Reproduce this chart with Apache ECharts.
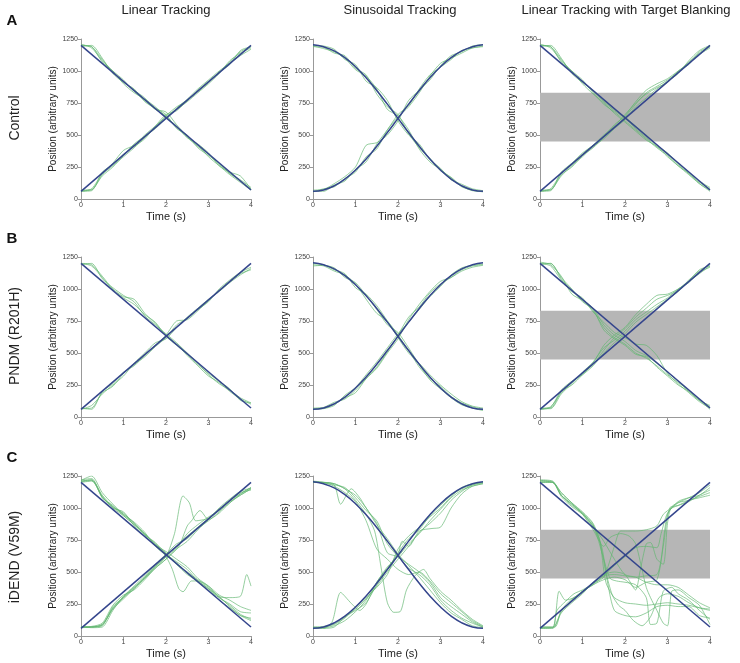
<!DOCTYPE html>
<html><head><meta charset="utf-8">
<script src="https://cdn.jsdelivr.net/npm/echarts@6.0.0/dist/echarts.min.js"></script>
<style>html,body{margin:0;padding:0;background:#fff}#c{width:740px;height:663px}</style>
</head><body><div id="c"></div>
<script>
// ---------- DATA ----------
const T = [0,0.25,0.5,0.75,1,1.25,1.5,1.75,2,2.25,2.5,2.75,3,3.25,3.5,3.75,4];
const linTime = [0,4];
const linUpTarget = [60,1200];
const linDownTarget = [1200,70];
const sinUpTarget = [60,71,103,156,227,313,412,519,630,741,848,947,1033,1104,1157,1189,1205];
const sinDownTarget = [1205,1189,1157,1104,1033,947,848,741,630,519,412,313,227,156,103,71,60];
const blankBand = [450,830];
const colTitles = ['Linear Tracking','Sinusoidal Tracking','Linear Tracking with Target Blanking'];
const rowLetters = ['A','B','C'];
const rowNames = ['Control','PNDM (R201H)','iDEND (V59M)'];

// Control
const ctrlLinUp = [
 [65,70,190,260,330,400,480,560,650,720,770,850,920,990,1070,1150,1190],
 [60,80,200,280,380,420,500,570,640,700,760,830,900,980,1080,1140,1180],
 [70,75,180,250,340,430,490,550,630,710,780,860,930,1000,1060,1120,1170],
 [60,65,210,270,350,410,470,570,660,690,770,840,910,990,1050,1160,1190]];
const ctrlLinDown = [
 [1200,1190,1090,990,920,850,790,700,650,560,480,410,350,270,200,140,80],
 [1210,1180,1080,1000,930,840,770,700,680,580,490,420,330,260,190,130,70],
 [1190,1200,1100,980,910,860,760,710,660,550,500,400,340,280,200,150,90],
 [1200,1190,1070,1000,900,830,780,720,640,570,480,430,360,260,210,180,75]];
const ctrlSinUp = [
 [60,60,110,140,230,290,430,540,660,730,860,970,1030,1090,1160,1180,1195],
 [70,75,120,175,250,420,440,500,610,770,850,930,1040,1120,1150,1195,1205],
 [55,80,95,160,210,330,390,540,640,720,830,960,1060,1100,1140,1180,1190]];
const ctrlSinDown = [
 [1190,1185,1140,1120,1020,970,820,720,660,510,400,320,220,170,100,65,60],
 [1200,1195,1170,1090,1050,920,870,770,610,500,430,310,240,150,115,80,65],
 [1195,1175,1150,1100,1010,960,860,700,650,540,390,290,230,165,95,70,55]];
const ctrlBlankUp = [
 [65,70,190,250,340,400,480,560,640,740,830,880,930,990,1070,1140,1190],
 [60,80,200,270,350,420,490,580,650,760,850,900,940,1000,1060,1130,1180],
 [70,75,180,260,330,410,470,550,620,720,790,860,920,980,1080,1160,1200],
 [60,65,210,280,360,420,500,570,660,750,820,870,910,1000,1050,1150,1190]];
const ctrlBlankDown = [
 [1200,1190,1090,990,920,840,760,690,630,550,480,410,350,270,200,130,80],
 [1210,1180,1080,1000,930,830,740,680,610,540,470,400,340,260,190,120,60],
 [1190,1200,1100,980,910,850,770,700,640,570,500,420,360,280,210,140,90],
 [1200,1190,1070,1000,900,820,750,670,600,530,460,410,330,260,200,120,70]];

// PNDM (R201H)
const pndmLinUp = [
 [70,60,200,260,350,400,480,560,640,750,760,830,910,990,1060,1120,1150],
 [60,90,180,250,320,420,500,580,610,700,780,850,920,980,1050,1110,1160],
 [65,70,190,240,340,410,470,550,620,720,770,840,900,1000,1070,1130,1170]];
const pndmLinDown = [
 [1200,1190,1100,1000,940,920,810,730,640,570,480,400,320,270,200,140,100],
 [1190,1200,1080,1010,950,900,790,720,650,580,500,420,330,260,210,150,110],
 [1200,1180,1090,990,930,880,800,740,630,560,490,410,340,280,220,130,110]];
const pndmSinUp = [
 [70,70,100,150,190,300,390,510,640,780,860,970,1040,1090,1150,1180,1190],
 [60,65,90,170,230,330,430,540,650,740,840,940,1020,1110,1165,1185,1195],
 [65,75,115,140,210,300,380,500,610,760,880,980,1060,1090,1140,1170,1185]];
const pndmSinDown = [
 [1190,1180,1140,1110,1040,920,810,750,640,520,390,300,240,160,110,80,60],
 [1200,1190,1150,1120,1010,960,870,750,620,500,420,330,250,180,120,85,70],
 [1180,1185,1165,1090,1050,950,840,720,660,540,410,290,220,150,95,70,50]];
const pndmBlankUp = [
 [70,70,200,250,330,420,560,640,700,800,880,950,960,1000,1060,1120,1180],
 [60,80,190,270,340,410,520,620,690,780,850,920,950,990,1070,1140,1190],
 [65,65,180,260,350,430,540,600,670,760,820,880,930,1000,1050,1130,1170],
 [60,75,210,280,330,400,500,580,650,740,800,860,920,980,1060,1150,1180]];
const pndmBlankDown = [
 [1200,1200,1080,990,920,850,720,640,590,520,480,420,350,280,200,130,90],
 [1210,1190,1100,960,910,830,700,620,570,500,460,400,330,270,210,140,80],
 [1200,1180,1070,980,930,820,740,660,620,570,560,480,340,260,190,120,70],
 [1190,1200,1090,1000,900,840,680,610,560,490,470,390,320,250,200,130,60]];

// iDEND (V59M)
const idendLinUp = [
 [70,70,80,230,300,380,450,540,630,700,780,850,920,990,1050,1100,1150],
 [65,70,90,210,290,370,460,550,620,690,800,870,930,980,1040,1110,1160],
 [75,65,70,200,310,390,470,560,640,720,760,840,900,970,1060,1120,1140],
 [70,75,100,240,320,360,440,530,600,680,740,830,910,1000,1070,1130,1155],
 [[0,70],[0.25,70],[0.5,90],[0.75,220],[1,310],[1.25,380],[1.5,460],[1.75,540],[2,620],[2.2,800],[2.4,1094],[2.55,1040],[2.7,900],[3,920],[3.25,990],[3.5,1060],[3.75,1110],[4,1160]],
 [[0,70],[0.25,72],[0.5,85],[0.75,215],[1,300],[1.25,370],[1.5,450],[1.75,530],[2,600],[2.3,700],[2.5,860],[2.6,900],[2.8,980],[3,910],[3.25,960],[3.5,1040],[3.75,1100],[4,1150]]];
const idendLinDown = [
 [1210,1220,1100,1010,960,880,800,720,650,560,500,440,380,300,240,170,130],
 [1220,1230,1080,1020,940,870,790,730,640,580,520,430,370,310,230,160,140],
 [1200,1210,1090,1000,970,860,780,710,660,600,540,450,390,300,250,190,180],
 [1215,1250,1120,1030,950,890,810,700,630,570,490,420,360,280,220,160,120],
 [[0,1210],[0.25,1220],[0.5,1080],[0.75,1010],[1,950],[1.25,880],[1.5,790],[1.75,720],[2,620],[2.15,520],[2.3,370],[2.4,346],[2.6,430],[2.75,430],[3,390],[3.25,320],[3.5,280],[3.75,230],[4,200]],
 [[0,1205],[0.25,1215],[0.5,1090],[0.75,1000],[1,940],[1.25,870],[1.5,800],[1.75,710],[2,640],[2.25,560],[2.5,480],[2.75,430],[3,370],[3.2,310],[3.5,300],[3.75,310],[3.9,480],[4,390]]];
const idendSinUp = [
 [65,60,70,150,200,260,400,520,650,760,830,940,1020,1100,1150,1180,1200],
 [70,65,80,120,190,280,420,540,620,720,800,900,990,1080,1140,1170,1190],
 [60,70,90,140,220,300,380,480,680,780,850,930,1000,1090,1160,1190,1195],
 [[0,65],[0.25,60],[0.45,110],[0.65,340],[0.9,255],[1.1,200],[1.25,250],[1.5,420],[1.75,530],[2,640],[2.1,740],[2.25,700],[2.5,820],[2.8,840],[3,850],[3.25,1000],[3.5,1110],[3.75,1170],[4,1190]],
 [70,75,95,150,210,290,390,500,600,700,810,880,960,1060,1130,1180,1200]];
const idendSinDown = [
 [1200,1195,1180,1160,1080,980,900,720,620,530,480,400,280,200,140,100,70],
 [1200,1200,1190,1150,1100,1000,870,760,640,550,460,360,260,180,130,80,65],
 [[0,1200],[0.25,1200],[0.5,1180],[0.65,1030],[0.9,1150],[1.1,1080],[1.25,1000],[1.5,880],[1.75,650],[2,620],[2.25,560],[2.5,500],[2.75,420],[3,300],[3.25,230],[3.5,170],[3.75,110],[4,70]],
 [[0,1205],[0.25,1200],[0.5,1190],[0.75,1150],[1,1060],[1.25,950],[1.45,820],[1.6,540],[1.75,260],[1.9,185],[2.05,190],[2.2,360],[2.4,470],[2.6,520],[2.75,450],[3,350],[3.25,280],[3.5,200],[3.75,130],[4,80]],
 [1210,1200,1170,1120,1050,900,680,600,520,480,500,430,330,260,190,120,75]];
const idendBlankUp = [
 [[0,65],[0.3,65],[0.4,200],[0.6,270],[0.8,330],[1,360],[1.25,410],[1.5,470],[1.75,480],[2,470],[2.25,460],[2.5,470],[2.75,480],[2.85,600],[3,950],[3.25,1050],[3.5,1080],[3.75,1100],[4,1160]],
 [[0,70],[0.3,70],[0.45,350],[0.6,280],[0.8,300],[1,350],[1.25,400],[1.5,440],[1.75,460],[2,440],[2.25,380],[2.5,420],[2.75,440],[2.9,700],[3.05,1000],[3.25,1020],[3.5,1060],[3.75,1080],[4,1100]],
 [[0,60],[0.3,60],[0.5,180],[0.75,260],[1,330],[1.25,420],[1.5,480],[1.75,500],[2,480],[2.25,360],[2.35,500],[2.5,720],[2.6,730],[2.75,600],[2.9,560],[3,880],[3.1,1010],[3.5,1080],[3.75,1120],[4,1180]],
 [[0,70],[0.35,70],[0.5,200],[0.75,290],[1,340],[1.25,410],[1.5,460],[1.75,700],[1.9,820],[2.25,820],[2.5,830],[2.75,860],[2.9,950],[3.1,1000],[3.5,1050],[3.75,1100],[4,1140]],
 [[0,60],[0.3,65],[0.5,190],[0.75,280],[1,350],[1.25,400],[1.5,470],[1.75,550],[2,620],[2.25,690],[2.5,700],[2.75,690],[2.85,800],[3,960],[3.25,1040],[3.5,1060],[3.75,1090],[4,1120]]];
const idendBlankDown = [
 [[0,1210],[0.3,1200],[0.5,1120],[0.75,1040],[1,960],[1.25,860],[1.4,760],[1.55,420],[1.75,300],[2,260],[2.25,250],[2.5,240],[2.75,250],[3,260],[3.25,250],[3.5,240],[3.75,220],[4,210]],
 [[0,1220],[0.3,1210],[0.5,1100],[0.75,1030],[1,950],[1.25,850],[1.45,700],[1.6,400],[1.75,200],[2,160],[2.25,150],[2.5,180],[2.75,230],[3,240],[3.25,230],[3.5,230],[3.75,160],[4,140]],
 [[0,1200],[0.3,1200],[0.5,1100],[0.75,1020],[1,960],[1.25,870],[1.5,600],[1.65,450],[1.8,430],[2,420],[2.25,400],[2.5,300],[2.6,90],[2.75,100],[2.9,350],[3.1,380],[3.25,330],[3.5,280],[3.75,200],[4,130]],
 [[0,1215],[0.3,1205],[0.5,1090],[0.75,1010],[1,950],[1.25,830],[1.5,700],[1.65,770],[1.9,800],[2.1,780],[2.25,720],[2.4,520],[2.5,380],[2.6,300],[2.75,200],[2.9,100],[3,80],[3.1,350],[3.25,360],[3.5,300],[3.75,240],[4,90]],
 [[0,1200],[0.3,1200],[0.5,1120],[0.75,1040],[1,970],[1.25,880],[1.4,750],[1.55,500],[1.7,320],[1.85,240],[2,200],[2.2,120],[2.4,80],[2.6,150],[2.8,300],[3,330],[3.25,310],[3.5,260],[3.75,220],[4,200]],
 [[0,1210],[0.3,1200],[0.5,1100],[0.75,1030],[1,960],[1.25,860],[1.5,740],[1.75,600],[2,480],[2.25,460],[2.5,420],[2.75,400],[3,400],[3.25,380],[3.5,320],[3.75,260],[4,220]]];

// ---------- LAYOUT / STYLE ----------
const FONT = 'Liberation Sans, Arial, Helvetica, sans-serif';
const gridLefts = [81,313,540];
const gridTops = [39,257,476];
const gridW = 170, gridH = 160;
const traceColor = 'rgba(98,182,112,0.85)';
const targetColor = '#34458c';

const panels = [
 {up: ctrlLinUp, down: ctrlLinDown, kind:'lin', blank:false},
 {up: ctrlSinUp, down: ctrlSinDown, kind:'sin', blank:false},
 {up: ctrlBlankUp, down: ctrlBlankDown, kind:'lin', blank:true},
 {up: pndmLinUp, down: pndmLinDown, kind:'lin', blank:false},
 {up: pndmSinUp, down: pndmSinDown, kind:'sin', blank:false},
 {up: pndmBlankUp, down: pndmBlankDown, kind:'lin', blank:true},
 {up: idendLinUp, down: idendLinDown, kind:'lin', blank:false},
 {up: idendSinUp, down: idendSinDown, kind:'sin', blank:false},
 {up: idendBlankUp, down: idendBlankDown, kind:'lin', blank:true}
];

function toPts(tr){
  return (typeof tr[0] === 'number') ? tr.map((v,i)=>[T[i],v]) : tr;
}

const grid=[], xAxis=[], yAxis=[], series=[];
panels.forEach((p,i)=>{
  const r = Math.floor(i/3), c = i%3;
  grid.push({left:gridLefts[c], top:gridTops[r], width:gridW, height:gridH});
  xAxis.push({gridIndex:i, type:'value', min:0, max:4, interval:1,
    name:'Time (s)', nameLocation:'middle', nameGap:12,
    nameTextStyle:{fontSize:11, color:'#222', fontFamily:FONT},
    axisLine:{lineStyle:{color:'#999', width:1}},
    axisTick:{show:true, length:3, lineStyle:{color:'#999'}},
    axisLabel:{fontSize:7, color:'#444', margin:3, fontFamily:FONT, formatter:v=>String(v)},
    splitLine:{show:false}});
  yAxis.push({gridIndex:i, type:'value', min:0, max:1250, interval:250,
    name:'Position (arbitrary units)', nameLocation:'middle', nameGap:23,
    nameTextStyle:{fontSize:10, color:'#222', fontFamily:FONT},
    axisLine:{show:true, lineStyle:{color:'#999', width:1}},
    axisTick:{show:true, length:3, lineStyle:{color:'#999'}},
    axisLabel:{fontSize:7, color:'#444', margin:3, fontFamily:FONT, formatter:v=>String(v)},
    splitLine:{show:false}});
  if (p.blank){
    series.push({type:'line', xAxisIndex:i, yAxisIndex:i, z:1, silent:true,
      data:[[0,blankBand[0]]], symbol:'none', lineStyle:{opacity:0},
      markArea:{silent:true, itemStyle:{color:'#b6b6b6'},
        data:[[{coord:[0,blankBand[0]]},{coord:[4,blankBand[1]]}]]}});
  }
  [...p.up, ...p.down].forEach(tr=>{
    series.push({type:'line', xAxisIndex:i, yAxisIndex:i, z:2, silent:true,
      data:toPts(tr), showSymbol:false, symbol:'none', smooth:0.25,
      lineStyle:{color:traceColor, width:0.8}});
  });
  const upT = p.kind==='lin' ? linTime.map((t,k)=>[t,linUpTarget[k]]) : T.map((t,k)=>[t,sinUpTarget[k]]);
  const dnT = p.kind==='lin' ? linTime.map((t,k)=>[t,linDownTarget[k]]) : T.map((t,k)=>[t,sinDownTarget[k]]);
  [upT, dnT].forEach(d=>{
    series.push({type:'line', xAxisIndex:i, yAxisIndex:i, z:3, silent:true,
      data:d, showSymbol:false, symbol:'none', smooth:p.kind==='sin',
      lineStyle:{color:targetColor, width:1.5}});
  });
});

const graphic = [];
const titleX = [166,400,626];
colTitles.forEach((t,k)=>graphic.push({type:'text', x:titleX[k], y:10,
  style:{text:t, font:'13px '+FONT, fill:'#222', textAlign:'center', textVerticalAlign:'middle'}}));
const letterY = [21,239,458];
const nameY = [118,336,557];
rowLetters.forEach((t,k)=>{
  graphic.push({type:'text', x:12, y:letterY[k],
    style:{text:t, font:'bold 15px '+FONT, fill:'#111', textAlign:'center', textVerticalAlign:'middle'}});
  graphic.push({type:'text', x:15, y:nameY[k], rotation:Math.PI/2,
    style:{text:rowNames[k], font:'14px '+FONT, fill:'#222', textAlign:'center', textVerticalAlign:'middle'}});
});

const chart = echarts.init(document.getElementById('c'), null, {renderer:'canvas'});
chart.setOption({animation:false, backgroundColor:'#fff', grid, xAxis, yAxis, series, graphic});
</script></body></html>
